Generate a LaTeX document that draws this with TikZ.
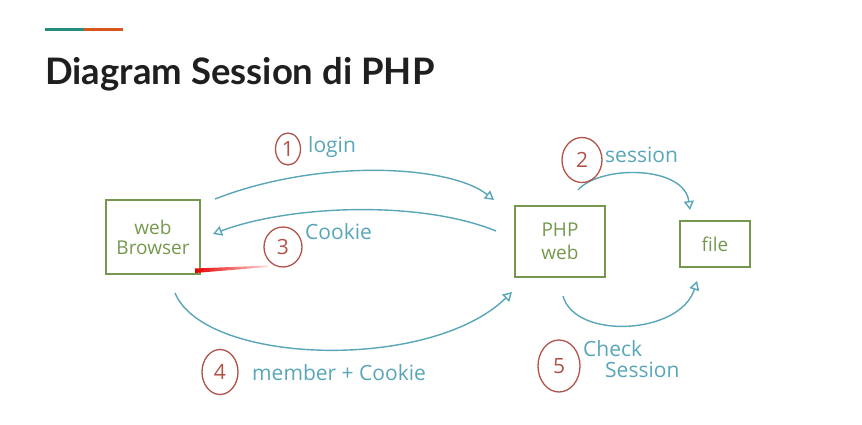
\documentclass[tikz,border=0pt]{standalone}
\usepackage{fontspec}
\setmainfont{Open Sans}
\newfontfamily\titlefont{Lato}
\usetikzlibrary{arrows.meta,shapes.geometric}
\definecolor{boxgreen}{RGB}{118,152,78}
\definecolor{pen}{RGB}{88,166,184}
\definecolor{numred}{RGB}{178,82,72}
\definecolor{barteal}{RGB}{38,140,124}
\definecolor{barorange}{RGB}{216,86,30}
\tikzset{
  box/.style={draw=boxgreen, line width=1.4pt, text=boxgreen, align=center, font=\fontsize{19}{20}\selectfont},
  flow/.style={draw=pen, line width=1.4pt, -{Triangle[open,length=9pt,width=10pt]}},
  num/.style={ellipse, draw=numred, line width=1.3pt, text=numred, inner sep=0pt, font=\fontsize{21}{21}\selectfont},
  lbl/.style={text=pen, inner sep=0pt, font=\fontsize{21}{23}\selectfont}
}
\begin{document}
\begin{tikzpicture}[x=1pt,y=-1pt]
    \useasboundingbox (0,0) rectangle (862,425);
    \fill[barteal] (45,28.5) rectangle (84,31.5);
    \fill[barorange] (84,28.5) rectangle (123,31.5);
    \node[anchor=base west, inner sep=0pt, text=black!88, font=\titlefont\bfseries\fontsize{36.5}{40}\selectfont] (title) at (45,85) {Diagram Session di PHP};

    \node[box, minimum width=94, minimum height=74] (browser) at (153,237) {web\\Browser};
    \node[box, minimum width=90, minimum height=71] (php) at (560,241.5) {PHP\\[3pt]web};
    \node[box, minimum width=70, minimum height=46] (file) at (715,244) {file};

    \coordinate (b1) at (215,199);  \coordinate (p1) at (494,200);
    \coordinate (p3) at (496,231);  \coordinate (b3) at (213,234);
    \coordinate (p2) at (578,190);  \coordinate (f2) at (690,210);
    \coordinate (b4) at (175,293);  \coordinate (p4) at (512,292);
    \coordinate (p5) at (563,296);  \coordinate (f5) at (697,281);

    \draw[flow] (b1) .. controls (320,158) and (450,165) .. (p1);
    \draw[flow] (p3) .. controls (420,200) and (290,205) .. (b3);
    \draw[flow] (p2) .. controls (600,165) and (684,165) .. (f2);
    \draw[flow] (b4) .. controls (205,365) and (430,372) .. (p4);
    \draw[flow] (p5) .. controls (575,340) and (680,335) .. (f5);

    \shade[left color=red!90!black, right color=red!15] (195,268.5) -- (268,265.5) -- (268,267) -- (195,273) -- cycle;

    \foreach \n/\x/\y/\w/\h in {1/288/149/25/32, 2/582/160/40/45, 3/283/247/38/40, 4/220/372/36/45, 5/559/366/42/52}
        \node[num, minimum width=\w, minimum height=\h] (c\n) at (\x,\y) {\n};

    \node[lbl, anchor=west] (t1) at (308,147) {login};
    \node[lbl, anchor=west] (t2) at (605,155) {session};
    \node[lbl, anchor=west] (t3) at (305,232) {Cookie};
    \node[lbl, anchor=west] (t4) at (252,373) {member + Cookie};
    \node[lbl, anchor=west, align=left] (t5) at (583,359) {Check\\[-2pt]\hspace*{22pt}Session};
\end{tikzpicture}
\end{document}
